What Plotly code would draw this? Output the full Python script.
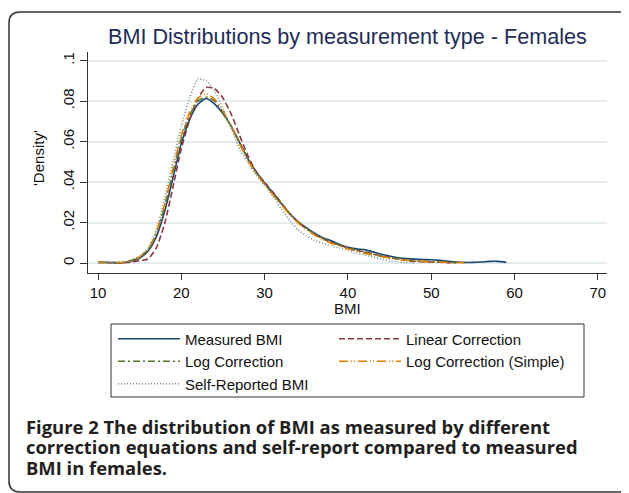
import plotly.graph_objects as go

# ---------------- data ----------------
bmi_measured = list(range(10, 60))
dens_measured = [0.0003, 0.0003, 0.0002, 0.0001, 0.0010, 0.0025, 0.0058, 0.0130, 0.0255, 0.0420,
                 0.0590, 0.0710, 0.0785, 0.0813, 0.0785, 0.0738, 0.0675, 0.0595, 0.0515, 0.0450,
                 0.0395, 0.0348, 0.0295, 0.0245, 0.0205, 0.0175, 0.0148, 0.0125, 0.0110, 0.0092,
                 0.0078, 0.0070, 0.0066, 0.0055, 0.0043, 0.0034, 0.0026, 0.0022, 0.0019, 0.0017,
                 0.0016, 0.0013, 0.0008, 0.0005, 0.0003, 0.0003, 0.0005, 0.0008, 0.0008, 0.0003]

bmi_linear = list(range(11, 54))
dens_linear = [0.0001, 0.0001, 0.0001, 0.0004, 0.0012, 0.0020, 0.0075, 0.0195, 0.0375,
               0.0565, 0.0708, 0.0815, 0.0868, 0.0862, 0.0815, 0.0735, 0.0630, 0.0530, 0.0450,
               0.0400, 0.0350, 0.0297, 0.0245, 0.0202, 0.0170, 0.0143, 0.0120, 0.0102, 0.0088,
               0.0075, 0.0063, 0.0055, 0.0045, 0.0035, 0.0027, 0.0019, 0.0013, 0.0008, 0.0006,
               0.0005, 0.0004, 0.0002, 0.0001]

bmi_log = list(range(10, 54))
dens_log = [0.0003, 0.0003, 0.0002, 0.0003, 0.0012, 0.0030, 0.0065, 0.0145, 0.0280, 0.0450,
            0.0615, 0.0730, 0.0800, 0.0820, 0.0800, 0.0745, 0.0675, 0.0595, 0.0515, 0.0450,
            0.0392, 0.0342, 0.0292, 0.0245, 0.0205, 0.0172, 0.0145, 0.0122, 0.0104, 0.0088,
            0.0074, 0.0063, 0.0053, 0.0043, 0.0034, 0.0027, 0.0020, 0.0015, 0.0011, 0.0009,
            0.0007, 0.0005, 0.0003, 0.0002]

bmi_logsimple = list(range(10, 55))
dens_logsimple = [0.0003, 0.0003, 0.0001, 0.0003, 0.0012, 0.0030, 0.0065, 0.0150, 0.0290, 0.0465,
                  0.0630, 0.0745, 0.0815, 0.0835, 0.0810, 0.0750, 0.0672, 0.0588, 0.0508, 0.0442,
                  0.0388, 0.0338, 0.0288, 0.0240, 0.0200, 0.0165, 0.0138, 0.0115, 0.0098, 0.0084,
                  0.0070, 0.0058, 0.0048, 0.0040, 0.0032, 0.0025, 0.0019, 0.0014, 0.0010, 0.0008,
                  0.0006, 0.0005, 0.0003, 0.0002, 0.0001]

bmi_self = list(range(10, 49))
dens_self = [0.0003, 0.0003, 0.0002, 0.0005, 0.0015, 0.0035, 0.0072, 0.0165, 0.0320, 0.0500,
             0.0675, 0.0816, 0.0910, 0.0900, 0.0850, 0.0765, 0.0665, 0.0560, 0.0495, 0.0435,
             0.0385, 0.0329, 0.0268, 0.0210, 0.0165, 0.0135, 0.0112, 0.0097, 0.0085, 0.0074,
             0.0063, 0.0048, 0.0040, 0.0030, 0.0020, 0.0011, 0.0005, 0.0002, 0.0001]

x_ticks = [10, 20, 30, 40, 50, 60, 70]
y_ticks = [0, 0.02, 0.04, 0.06, 0.08, 0.1]
y_tick_text = ["0", ".02", ".04", ".06", ".08", ".1"]

# (name, x, y, colour, dash, legend column)
series = [
    ("Measured BMI", bmi_measured, dens_measured, "#1a476f", "solid", "legend"),
    ("Linear Correction", bmi_linear, dens_linear, "#90353b", "6px,3px", "legend2"),
    ("Log Correction", bmi_log, dens_log, "#55752f", "7px,3px,2px,3px", "legend"),
    ("Log Correction (Simple)", bmi_logsimple, dens_logsimple, "#e37e00", "9px,3px,1px,2px,1px,3px", "legend2"),
    ("Self-Reported BMI", bmi_self, dens_self, "#6e8e84", "1px,2px", "legend"),
]

# ---------------- geometry ----------------
# the page body has an 8px margin, so the figure is drawn 8px in from the window edge
OFF = 8
W, H = 629 - OFF, 493 - OFF
PLOT_X0, PLOT_X1, PLOT_Y0, PLOT_Y1 = 88, 607, 52, 273   # window pixels
L = PLOT_X0 - OFF
R = (W + OFF) - PLOT_X1
T = PLOT_Y0 - OFF
B = (H + OFF) - PLOT_Y1
PW, PH = W - L - R, H - T - B


def px(xp):
    return (xp - PLOT_X0) / PW


def py(yp):
    return (PLOT_Y1 - yp) / PH


FONT = "Liberation Sans"

fig = go.Figure()
for name, xs, ys, col, dash, leg in series:
    fig.add_trace(go.Scatter(x=xs, y=ys, mode="lines", name=name, legend=leg,
                             line=dict(color=col, width=1.6, dash=dash, shape="spline", smoothing=0.6)))

ITEMW = 62
TEXT_OFF = 73   # distance from legend left edge to its text


def legend_cfg(text_x):
    return dict(orientation="v", x=px(text_x - TEXT_OFF), y=py(322.5), xanchor="left", yanchor="top",
                itemwidth=ITEMW, borderwidth=0, bgcolor="rgba(0,0,0,0)",
                font=dict(family=FONT, size=15, color="#111111"), traceorder="normal",
                tracegroupgap=0)


fig.update_layout(
    width=W, height=H,
    margin=dict(l=L, r=R, t=T, b=B),
    paper_bgcolor="white", plot_bgcolor="white",
    font=dict(family=FONT, size=15, color="#111111"),
    showlegend=True,
    legend=legend_cfg(186),
    legend2=legend_cfg(407),
    xaxis=dict(range=[8.8, 71.1], tickvals=x_ticks, ticks="outside", ticklen=6,
               tickcolor="#333333", showline=True, linecolor="#333333", linewidth=1,
               showgrid=False, zeroline=False, tickfont=dict(size=15, color="#111111")),
    yaxis=dict(range=[-0.00494, 0.1043], tickvals=y_ticks, ticktext=y_tick_text,
               tickangle=-90, ticks="outside", ticklen=7, tickcolor="#333333",
               showline=True, linecolor="#333333", linewidth=1,
               showgrid=True, gridcolor="#e3ecef", gridwidth=1.6, zeroline=False,
               tickfont=dict(size=15, color="#111111")),
)

# legend border box (window pixels)
fig.add_shape(type="rect", xref="paper", yref="paper", x0=px(111), x1=px(584), y0=py(324), y1=py(397),
              line=dict(color="#333333", width=1), fillcolor="rgba(0,0,0,0)", layer="above")

# frame with rounded corners (window pixels)
x0, y0, x1, y1, r = 9, 12, 630, 492, 11
path = (f"M {px(x0 + r)},{py(y0)} L {px(x1 - r)},{py(y0)} Q {px(x1)},{py(y0)} {px(x1)},{py(y0 + r)} "
        f"L {px(x1)},{py(y1 - r)} Q {px(x1)},{py(y1)} {px(x1 - r)},{py(y1)} "
        f"L {px(x0 + r)},{py(y1)} Q {px(x0)},{py(y1)} {px(x0)},{py(y1 - r)} "
        f"L {px(x0)},{py(y0 + r)} Q {px(x0)},{py(y0)} {px(x0 + r)},{py(y0)} Z")
fig.add_shape(type="path", path=path, xref="paper", yref="paper",
              line=dict(color="#333333", width=1.5), fillcolor="rgba(0,0,0,0)", layer="above")

# title
fig.add_annotation(text="BMI Distributions by measurement type - Females", xref="paper", yref="paper",
                   x=px(347.5), y=py(36), xanchor="center", yanchor="middle", showarrow=False,
                   font=dict(family=FONT, size=21.6, color="#1e2d57"))
# axis titles
fig.add_annotation(text="'Density'", xref="paper", yref="paper", x=px(38), y=py(158),
                   xanchor="center", yanchor="middle", textangle=-90, showarrow=False,
                   font=dict(family=FONT, size=15, color="#111111"))
fig.add_annotation(text="BMI", xref="paper", yref="paper", x=px(347), y=py(308),
                   xanchor="center", yanchor="middle", showarrow=False,
                   font=dict(family=FONT, size=15, color="#111111"))

# caption
CAP = "Open Sans"
cap_lines = [
    "<b>Figure 2 The distribution of BMI as measured by different</b>",
    "<b>correction equations and self-report compared to measured</b>",
    "<b>BMI in females.</b>",
]
cap_y = [426, 447, 467]
for t, yy in zip(cap_lines, cap_y):
    fig.add_annotation(text=t, xref="paper", yref="paper", x=px(24), y=py(yy),
                       xanchor="left", yanchor="middle", showarrow=False,
                       font=dict(family=CAP, size=18.4, color="#231f20"))

fig.write_html("out.html")
